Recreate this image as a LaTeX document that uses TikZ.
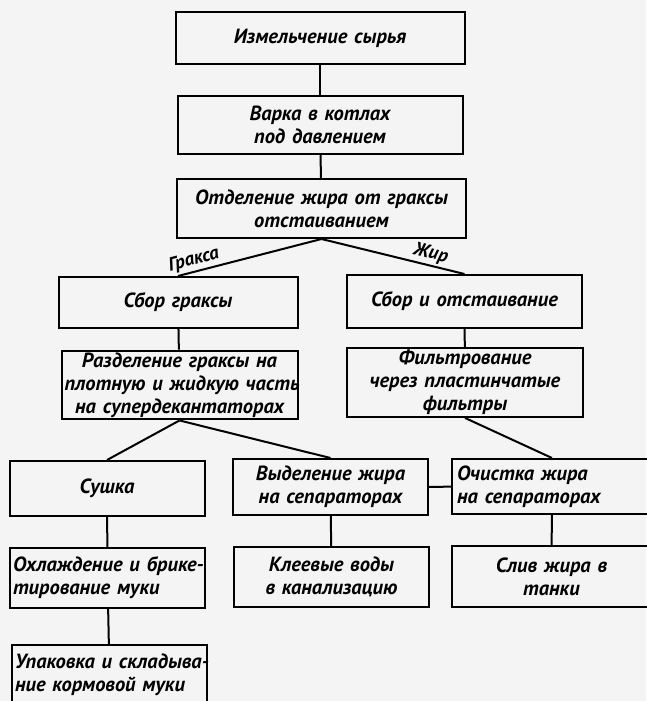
\documentclass[tikz,border=0pt]{standalone}
\usepackage{fontspec}
\setmainfont{PT Sans}
\usetikzlibrary{shapes}

\begin{document}
\begin{tikzpicture}[x=1pt,y=1pt]

\tikzstyle{line} = [draw, line width=2pt]
\tikzstyle{block} = [draw, rectangle, line width=2pt, text centered, inner xsep=3pt, inner ysep=2pt, font=\bfseries\itshape\fontsize{20.5}{23}\selectfont]
\tikzstyle{wide} = [block, text width=283pt]
\tikzstyle{mid} = [block, text width=230pt]
\tikzstyle{small} = [block, text width=189pt]
\tikzstyle{lbl} = [font=\bfseries\itshape\fontsize{19}{21}\selectfont, inner sep=2pt]

\fill [gray!9] (0,0) rectangle (646,-701);
\useasboundingbox (0,0) rectangle (646,-701);

\node [wide, minimum height=52pt] (izm) at (320,-38) {Измельчение сырья};
\node [wide, text width=279pt, minimum height=58pt, node distance=87pt, below of=izm] (varka) {Варка в котлах\\под давлением};
\node [wide, minimum height=59pt, node distance=83.5pt, below of=varka, xshift=1.5pt] (otdel) {Отделение жира от граксы\\отстаиванием};

\node [mid, text width=233pt, minimum height=51pt, node distance=94pt, below of=otdel, xshift=-143.5pt] (sborgr) {Сбор граксы};
\node [mid, text width=229pt, minimum height=53pt, node distance=286.5pt, right of=sborgr, yshift=1pt] (sborj) {Сбор и отстаивание};
\node [mid, minimum height=66pt, node distance=82.5pt, below of=sborgr, xshift=1.5pt] (razd) {\mbox{Разделение граксы на}\\\mbox{плотную и жидкую часть}\\\mbox{на супердекантаторах}};
\node [mid, minimum height=67pt, node distance=81pt, below of=sborj, xshift=0.5pt] (filtr) {Фильтрование\\через пластинчатые\\фильтры};

\node [small, minimum height=55pt, node distance=103.5pt, below of=razd, xshift=-72.5pt] (sushka) {Сушка};
\node [small, minimum height=56pt, node distance=223.5pt, right of=sushka, yshift=1.5pt] (vydel) {Выделение жира\\на сепараторах};
\node [small, text width=190pt, inner xsep=5pt, align=left, minimum height=55pt, node distance=221.5pt, right of=vydel, yshift=0.5pt] (ochist) {Очистка жира\\на сепараторах};

\node [small, align=left, minimum height=60pt, node distance=89.5pt, below of=sushka, xshift=0.5pt] (ohlazh) {\mbox{Охлаждение и брике-}\\тирование муки};
\node [small, minimum height=60pt, node distance=90pt, below of=vydel, xshift=1pt] (kleev) {Клеевые воды\\в канализацию};
\node [small, text width=194pt, minimum height=61pt, node distance=90pt, below of=ochist, xshift=-0.5pt] (sliv) {Слив жира в\\танки};
\node [small, align=left, minimum height=60pt, node distance=97pt, below of=ohlazh, xshift=2pt] (upak) {\mbox{Упаковка и складыва-}\\ние кормовой муки};

%lines
\path [line] (izm) -- (varka);
\path [line] (varka) -- (otdel);
\path [line] (sborgr.north) -- node[lbl, pos=0.13, above, sloped] {Гракса} (otdel.south);
\path [line] (otdel.south) -- node[lbl, pos=0.745, above, sloped] {Жир} (sborj.north);
\path [line] (sborgr) -- (razd);
\path [line] (sborj) -- (filtr);
\path [line] (razd.south) -- (sushka.north);
\path [line] (razd.south) -- (vydel.north);
\path [line] (filtr.south) -- (ochist.north);
\path [line] (vydel) -- (ochist);
\path [line] (sushka) -- (ohlazh);
\path [line] (vydel) -- (kleev);
\path [line] (ochist) -- (sliv);
\path [line] (ohlazh) -- (upak);
\end{tikzpicture}
\end{document}
